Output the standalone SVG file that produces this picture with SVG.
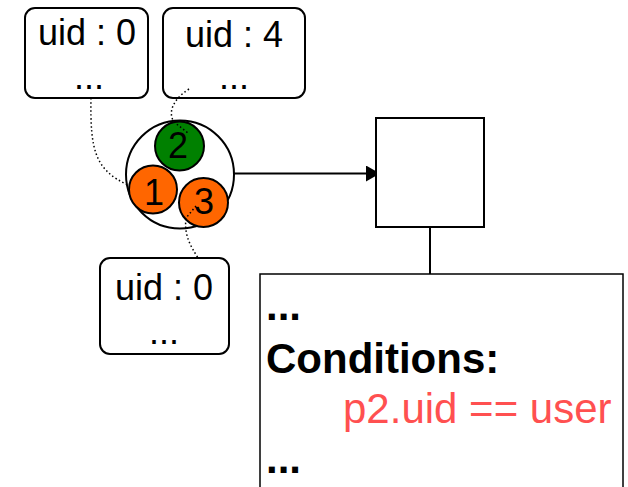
<svg xmlns="http://www.w3.org/2000/svg" width="628" height="487" viewBox="0 0 628 487">
<style>
.box{fill:#fff;stroke:#000;stroke-width:2}
.t{font-family:"Liberation Sans",Arial,sans-serif;font-size:36px;fill:#000;text-anchor:middle}
.b{font-family:"Liberation Sans",Arial,sans-serif;font-weight:bold;font-size:42px;fill:#000}
.dot{fill:none;stroke:#000;stroke-width:1.5;stroke-dasharray:1.5 2.5}
.ln{fill:none;stroke:#000;stroke-width:2}
</style>
<defs>
<marker id="arr" markerWidth="14" markerHeight="16" refX="13" refY="8" orient="auto" markerUnits="userSpaceOnUse">
<path d="M0,0 L14,8 L0,16 Z" fill="#000"/>
</marker>
</defs>
<rect width="628" height="487" fill="#fff"/>
<g id="connectors">
<path class="ln" d="M234,173.5 L379,173.5" marker-end="url(#arr)"/>
<path class="ln" d="M430,227 L430,274" stroke-width="1.5"/>
</g>
<g id="node-uid0-top">
<rect class="box" x="25" y="8" width="123" height="90" rx="10"/>
<text class="t" x="87" y="45">uid : 0</text>
<text class="t" x="89" y="89">...</text>
</g>
<g id="node-uid4">
<rect class="box" x="163" y="8" width="142" height="90" rx="10"/>
<text class="t" x="234" y="47">uid : 4</text>
<text class="t" x="234" y="89">...</text>
</g>
<g id="node-uid0-bottom">
<rect class="box" x="100" y="258" width="129" height="96" rx="10"/>
<text class="t" x="164" y="300">uid : 0</text>
<text class="t" x="164" y="344">...</text>
</g>
<g id="node-group">
<circle cx="180" cy="174.5" r="54" fill="#fff" stroke="#000" stroke-width="2"/>
</g>
<g id="node-2">
<circle cx="179.5" cy="146" r="24.5" fill="#008000" stroke="#000" stroke-width="2"/>
<text class="t" x="178" y="158">2</text>
</g>
<g id="node-1">
<circle cx="153" cy="189.5" r="24" fill="#FF6600" stroke="#000" stroke-width="2"/>
<text class="t" x="154" y="205">1</text>
</g>
<g id="node-3">
<circle cx="203.5" cy="202.5" r="24.5" fill="#FF6600" stroke="#000" stroke-width="2"/>
<text class="t" x="204" y="214">3</text>
</g>
<g id="dotted-links">
<path class="dot" d="M91,98 C90,150 95,170 128,185"/>
<path class="dot" d="M189,89 C172,100 168,113 174,122 L188,133"/>
<path class="dot" d="M196,206 L186,218 C184,235 190,245 198,258"/>
</g>
<g id="node-square">
<rect x="376" y="118" width="108" height="109" fill="#fff" stroke="#000" stroke-width="2"/>
</g>
<g id="node-conditions">
<rect x="260" y="274" width="363" height="240" fill="#fff" stroke="#000" stroke-width="1.5"/>
<text class="b" x="266" y="320">...</text>
<text class="b" x="266" y="373">Conditions:</text>
<text x="343" y="423" font-family="'Liberation Sans',Arial,sans-serif" font-size="42" fill="#FF5050">p2.uid == user</text>
<text class="b" x="266" y="473">...</text>
</g>
</svg>
